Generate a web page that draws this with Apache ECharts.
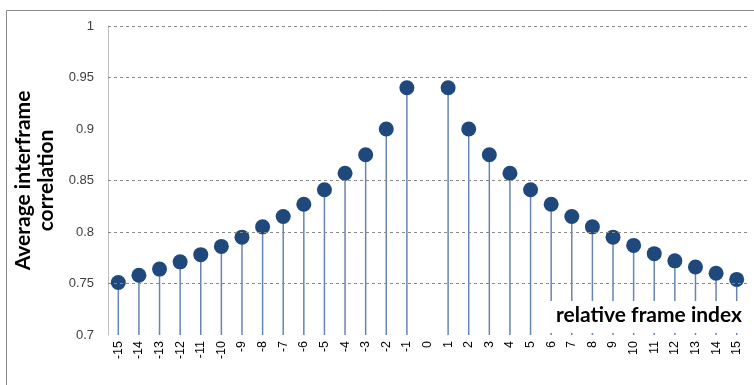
<!DOCTYPE html>
<html>
<head>
<meta charset="utf-8">
<script src="https://cdn.jsdelivr.net/npm/echarts@6/dist/echarts.min.js"></script>
<style>html,body{margin:0;padding:0;background:#fff}#c{width:754px;height:385px}</style>
</head>
<body>
<div id="c"></div>
<script>
var categories = ['-15','-14','-13','-12','-11','-10','-9','-8','-7','-6','-5','-4','-3','-2','-1','0','1','2','3','4','5','6','7','8','9','10','11','12','13','14','15'];
var correlation = [0.751,0.758,0.764,0.771,0.778,0.786,0.795,0.805,0.815,0.827,0.841,0.857,0.875,0.900,0.940,null,0.940,0.900,0.875,0.857,0.841,0.827,0.815,0.805,0.795,0.787,0.779,0.772,0.766,0.760,0.754];
var gridValues = [1, 0.95, 0.85, 0.8, 0.75];
var yName = 'Average interframe\ncorrelation';
var xName = 'relative frame index';

var chart = echarts.init(document.getElementById('c'), null, {renderer: 'canvas'});
chart.setOption({
  animation: false,
  backgroundColor: '#fff',
  graphic: [{
    type: 'rect', left: 4, top: 8, shape: {width: 800, height: 400},
    style: {fill: 'none', stroke: '#898989', lineWidth: 1}, silent: true, z: -1
  }],
  title: {
    text: xName, right: 7, top: 301,
    backgroundColor: '#fff', padding: [4, 5, 7, 6],
    textStyle: {fontFamily: 'Lato', fontWeight: 'bold', fontSize: 21, color: '#000'}
  },
  grid: {left: 108, right: 7, top: 26, bottom: 50, containLabel: false, outerBoundsMode: 'none'},
  xAxis: {
    type: 'category', data: categories, boundaryGap: true,
    axisLine: {show: false}, axisTick: {show: false},
    axisLabel: {rotate: 90, interval: 0, margin: 6, fontFamily: 'Liberation Sans', fontSize: 12.5, color: '#000'},
    splitLine: {show: false}
  },
  yAxis: {
    type: 'value', min: 0.7, max: 1, interval: 0.05,
    name: yName, nameLocation: 'middle', nameGap: 48, nameRotate: 90,
    nameTextStyle: {fontFamily: 'Lato', fontWeight: 'bold', fontSize: 21, color: '#000', lineHeight: 23},
    axisLine: {show: true, lineStyle: {color: '#bfbfbf', width: 1}},
    axisTick: {show: false},
    axisLabel: {margin: 14, fontFamily: 'Liberation Sans', fontSize: 13, color: '#404040'},
    splitLine: {show: false}
  },
  series: [{
    type: 'bar', data: correlation, barWidth: 1.5, clip: true, z: 2,
    itemStyle: {color: '#6685b0'},
    markLine: {
      silent: true, symbol: 'none', label: {show: false},
      lineStyle: {type: [3, 3], color: '#8a8a8a', width: 1},
      data: gridValues.map(function (v) { return {yAxis: v}; })
    }
  }, {
    type: 'scatter', data: correlation, symbol: 'circle', symbolSize: 15, z: 3,
    itemStyle: {color: '#1f497d', opacity: 1}
  }]
});
</script>
</body>
</html>
